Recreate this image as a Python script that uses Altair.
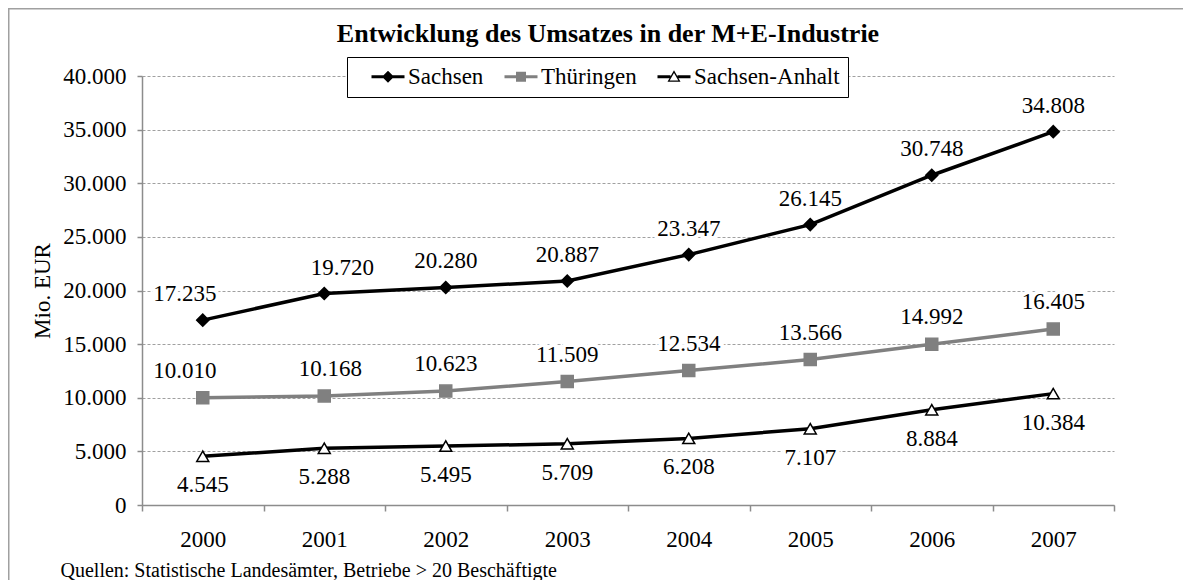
import altair as alt
import pandas as pd

years = ["2000", "2001", "2002", "2003", "2004", "2005", "2006", "2007"]
sachsen = [17235, 19720, 20280, 20887, 23347, 26145, 30748, 34808]
thueringen = [10010, 10168, 10623, 11509, 12534, 13566, 14992, 16405]
sachsen_anhalt = [4545, 5288, 5495, 5709, 6208, 7107, 8884, 10384]
series = ["Sachsen", "Thüringen", "Sachsen-Anhalt"]
y_ticks = [0, 5000, 10000, 15000, 20000, 25000, 30000, 35000, 40000]

rows = []
for name, vals in zip(series, [sachsen, thueringen, sachsen_anhalt]):
    for yr, v in zip(years, vals):
        rows.append({"Jahr": yr, "Wert": v, "Reihe": name,
                     "Label": f"{v:,}".replace(",", ".")})
df = pd.DataFrame(rows)

FONT = "Liberation Serif"
GRAY = "#808080"
AX = "#8c8c8c"

x_enc = alt.X(
    "Jahr:O",
    scale=alt.Scale(type="band", paddingInner=0, paddingOuter=0, domain=years),
    bandPosition=0.5,
    axis=alt.Axis(
        title="Quellen: Statistische Landesämter, Betriebe > 20 Beschäftigte",
        titleFont=FONT, titleFontSize=20, titleFontWeight="normal", titleColor="black",
        titleX=-82, titleY=65, titleAlign="left", titleAnchor="start", titleBaseline="middle",
        labelAngle=0, labelFont=FONT, labelFontSize=23, labelColor="black", labelPadding=17,
        tickBand="extent", tickSize=6, tickColor=AX, domainColor=AX, domainWidth=1.5,
        tickWidth=1.5, grid=False,
    ),
)
y_enc = alt.Y(
    "Wert:Q",
    scale=alt.Scale(domain=[0, 40000], nice=False, zero=True),
    axis=alt.Axis(
        values=y_ticks,
        labelExpr="replace(format(datum.value, ',d'), ',', '.')",
        title="Mio. EUR", titleFont=FONT, titleFontSize=23, titleFontWeight="normal",
        titleColor="black", titleX=-100, titleY=214.5, titleAngle=270,
        titleAlign="center", titleBaseline="middle",
        labelFont=FONT, labelFontSize=23, labelColor="black", labelPadding=11,
        tickSize=5, tickColor=AX, domainColor=AX, domainWidth=1.5, tickWidth=1.5,
        grid=True, gridColor="#a0a0a0", gridDash=[3, 2], gridWidth=1,
    ),
)

base = alt.Chart(df)

lines = base.mark_line(strokeWidth=3.5).encode(
    x=x_enc, y=y_enc,
    stroke=alt.Stroke("Reihe:N", scale=alt.Scale(domain=series, range=["black", GRAY, "black"]), legend=None),
    detail="Reihe:N",
)

points = base.mark_point(filled=False, size=144, strokeWidth=1.5, opacity=1).encode(
    x=x_enc, y=y_enc,
    shape=alt.Shape("Reihe:N", scale=alt.Scale(domain=series, range=["diamond", "square", "triangle-up"]), legend=None),
    fill=alt.Fill("Reihe:N", scale=alt.Scale(domain=series, range=["black", GRAY, "white"]), legend=None),
    stroke=alt.Stroke("Reihe:N", scale=alt.Scale(domain=series, range=["black", GRAY, "black"]), legend=None),
)

# legend glyphs: line + marker, as custom symbol paths
p_sachsen = "M0.5,-0.15H3.8V0.15H0.5Z M2.15,-0.6L2.75,0L2.15,0.6L1.55,0Z"
p_thuer = "M0.5,-0.15H3.8V0.15H0.5Z M1.65,-0.5H2.65V0.5H1.65Z"
p_anhalt = ("M0.5,-0.15H1.8V0.15H0.5Z M2.5,-0.15H3.8V0.15H2.5Z "
            "M2.15,-0.65L2.8,0.5L1.5,0.5Z M2.15,-0.38L1.72,0.37L2.58,0.37Z")

leg = alt.Legend(
    title=None, orient="none", legendX=205, legendY=-19, direction="horizontal",
    columns=3, strokeColor="black", fillColor="white", padding=8,
    symbolSize=400, symbolStrokeWidth=0, symbolOpacity=1,
    labelFont=FONT, labelFontSize=23, labelColor="black", labelOffset=30,
    columnPadding=4, cornerRadius=0,
)
legend_layer = base.transform_filter("false").mark_point(filled=True, strokeWidth=0, opacity=1).encode(
    x=x_enc, y=y_enc,
    shape=alt.Shape("Reihe:N", scale=alt.Scale(domain=series, range=[p_sachsen, p_thuer, p_anhalt]), legend=leg),
    fill=alt.Fill("Reihe:N", scale=alt.Scale(domain=series, range=["black", GRAY, "black"]), legend=leg),
)

offsets = {("Sachsen", "2000"): -18, ("Sachsen", "2001"): 18,
           ("Thüringen", "2000"): -18, ("Thüringen", "2001"): 6}
label_dy = {"Sachsen": -26, "Thüringen": -27, "Sachsen-Anhalt": 29}

label_layers = []
for name in series:
    special = [yr for (n, yr) in offsets if n == name]
    groups = [(None, [yr for yr in years if yr not in special], 0)]
    for yr in special:
        groups.append((yr, [yr], offsets[(name, yr)]))
    for _, yrs, dx in groups:
        sub = base.transform_filter(alt.datum.Reihe == name).transform_filter(
            alt.FieldOneOfPredicate(field="Jahr", oneOf=yrs))
        halo = sub.mark_text(dy=label_dy[name], dx=dx, font=FONT, fontSize=23, fill="white",
                             stroke="white", strokeWidth=8, strokeJoin="round", baseline="middle").encode(
            x=x_enc, y=y_enc, text="Label:N")
        txt = sub.mark_text(dy=label_dy[name], dx=dx, font=FONT, fontSize=23, color="black",
                            baseline="middle").encode(x=x_enc, y=y_enc, text="Label:N")
        label_layers += [halo, txt]

frame = alt.Chart(alt.Data(values=[{"a": 1}])).mark_rect(
    fillOpacity=0, stroke="#a0a0a0", strokeWidth=1.5, clip=False).encode(
    x=alt.value(-133.25), x2=alt.value(3000), y=alt.value(-67.25), y2=alt.value(3000))

chart = alt.layer(frame, lines, *label_layers, points, legend_layer).resolve_scale(
    shape="independent", fill="independent"
).properties(
    width=972, height=429,
    padding={"left": 134, "top": 68, "right": 69, "bottom": 75},
    autosize=alt.AutoSizeParams(type="none"),
    title=alt.TitleParams("Entwicklung des Umsatzes in der M+E-Industrie", font=FONT, fontSize=26,
                          fontWeight="bold", color="black", anchor="middle", dx=-20, offset=0,
                          baseline="middle", dy=52),
    background="white",
).configure_view(stroke=None)

chart.save("out.html", embed_options={"renderer": "svg", "actions": False})
